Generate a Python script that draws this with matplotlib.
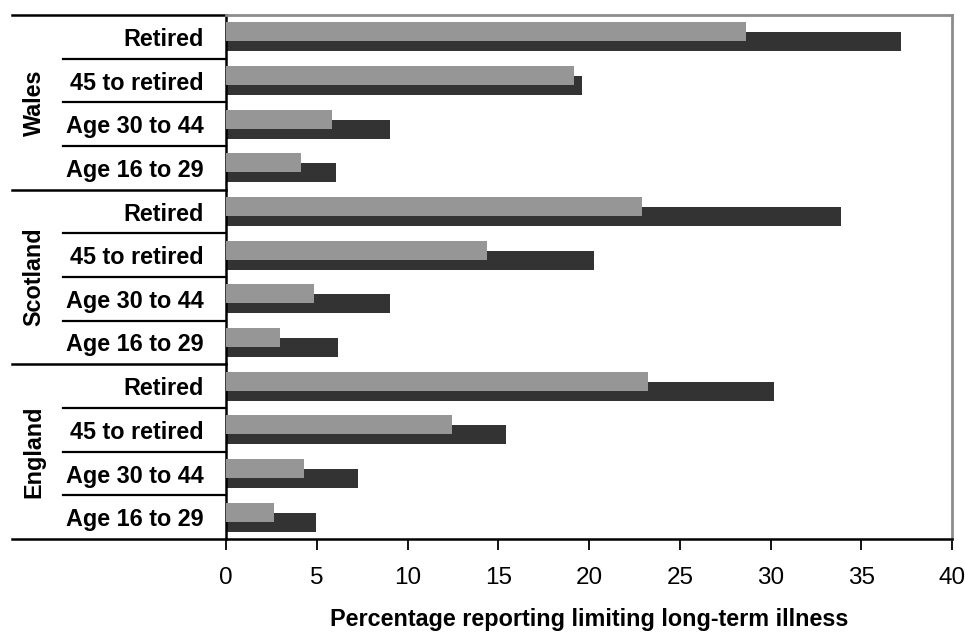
import matplotlib
matplotlib.use("Agg")
import matplotlib.pyplot as plt

plt.rcParams['font.family'] = ['Liberation Sans', 'DejaVu Sans']

# data (percent reporting limiting long-term illness)
countries = ["England", "Scotland", "Wales"]
ages = ["Age 16 to 29", "Age 30 to 44", "45 to retired", "Retired"]
light_england = [2.64, 4.3, 12.45, 23.25]
dark_england = [4.96, 7.27, 15.4, 30.2]
light_scotland = [2.97, 4.85, 14.4, 22.9]
dark_scotland = [6.17, 9.04, 20.3, 33.9]
light_wales = [4.13, 5.84, 19.2, 28.65]
dark_wales = [6.05, 9.04, 19.6, 37.2]
xticks = [0, 5, 10, 15, 20, 25, 30, 35, 40]

light = light_england + light_scotland + light_wales
dark = dark_england + dark_scotland + dark_wales
labels = ages * 3
ypos = list(range(len(labels)))

fig = plt.figure(figsize=(9.65, 6.33), dpi=100)
ax = fig.add_axes([226/965, 94/633, 726/965, 524/633])

off = 0.115
h = 0.435
ax.barh([y - off for y in ypos], dark, height=h, color="#333333", zorder=2)
ax.barh([y + off for y in ypos], light, height=h, color="#969696", zorder=3)

ax.set_xlim(0, 40)
ax.set_ylim(-0.5, 11.5)
ax.set_xticks(xticks)
ax.set_xticklabels([str(t) for t in xticks], fontsize=17.5)
ax.tick_params(axis='x', direction='out', length=8, width=1.3, pad=12)
ax.set_yticks(ypos)
ax.set_yticklabels(labels, fontsize=16.8, fontweight='bold')
ax.tick_params(axis='y', length=0, pad=16)

for s in ['left', 'bottom']:
    ax.spines[s].set_linewidth(1.8)
    ax.spines[s].set_color('black')
for s in ['top', 'right']:
    ax.spines[s].set_linewidth(2)
    ax.spines[s].set_color('#8c8c8c')

tr = ax.get_yaxis_transform()
# separators between age rows
for i in range(3):
    for k in range(1, 4):
        yy = i * 4 + k - 0.5
        ax.plot([-0.2245, 0], [yy, yy], color='black', lw=1.6,
                transform=tr, clip_on=False)
# separators between countries
for i in range(4):
    yy = i * 4 - 0.5
    ax.plot([-0.2948, 0], [yy, yy], color='black', lw=1.8,
            transform=tr, clip_on=False)

for i, c in enumerate(countries):
    ax.text(-0.264, i * 4 + 1.5, c, transform=tr, rotation=90,
            ha='center', va='center', fontsize=16.8, fontweight='bold')

ax.set_xlabel("Percentage reporting limiting long-term illness",
              fontsize=16.8, fontweight='bold', labelpad=14)

fig.savefig("out.png", dpi=100)
